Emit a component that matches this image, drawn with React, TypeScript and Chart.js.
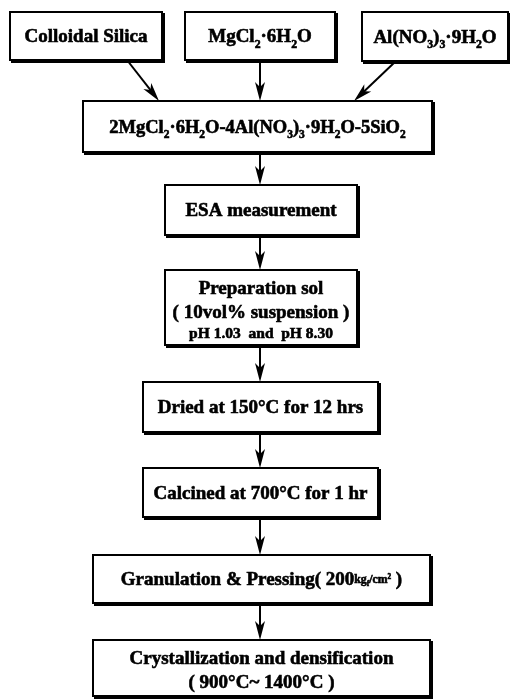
import React, { useEffect, useRef } from "react";
import { Chart, registerables } from "chart.js";

Chart.register(...registerables);

const W = 510;
const H = 699;

// Box labels: "_x" = subscript char, "^x" = superscript char, "{...}" = small group
const boxLabels: string[][] = [
  ["Colloidal Silica"],
  ["MgCl_2·6H_2O"],
  ["Al(NO_3)_3·9H_2O"],
  ["2MgCl_2·6H_2O-4Al(NO_3)_3·9H_2O-5SiO_2"],
  ["ESA measurement"],
  ["Preparation sol", "( 10vol% suspension )", "pH 1.03  and  pH 8.30"],
  ["Dried at 150°C for 12 hrs"],
  ["Calcined at 700°C for 1 hr"],
  ["Granulation & Pressing( 200{kg_f/cm^2} )"],
  ["Crystallization and densification", "( 900°C~ 1400°C )"],
];
const lineSizes: number[][] = [
  [19], [19], [19], [18.5], [19], [19, 19, 15.5], [19], [19], [19], [19, 19],
];
// Box extents in chart units
const boxLeft = [10, 185, 362, 83, 165, 165, 143, 143, 93, 93];
const boxRight = [162, 335, 508, 432, 357, 357, 378, 378, 430, 430];
const boxTop = [12, 12, 12, 101, 185, 270, 382, 468, 555, 640];
const boxBottom = [60, 60, 61, 152, 235, 345, 432, 517, 603, 696];

// Arrows: from box (bottom edge) to box (top edge)
const arrowFrom = [0, 1, 2, 3, 4, 5, 6, 7, 8];
const arrowTo = [3, 3, 3, 4, 5, 6, 7, 8, 9];
const arrowFromX = [127, 260, 396, 260, 260, 260, 260, 260, 260];
const arrowToX = [159, 260, 354, 260, 260, 260, 260, 260, 260];

type Seg = { t: string; mode: "n" | "sub" | "sup"; small: boolean };

function parse(s: string): Seg[] {
  const segs: Seg[] = [];
  let small = false;
  for (let i = 0; i < s.length; i++) {
    const c = s[i];
    if (c === "{") { small = true; continue; }
    if (c === "}") { small = false; continue; }
    if ((c === "_" || c === "^") && i + 1 < s.length) {
      segs.push({ t: s[i + 1], mode: c === "_" ? "sub" : "sup", small });
      i++;
      continue;
    }
    const last = segs[segs.length - 1];
    if (last && last.mode === "n" && last.small === small) last.t += c;
    else segs.push({ t: c, mode: "n", small });
  }
  return segs;
}

const FONT = '"Liberation Serif", "Times New Roman", serif';

function segSize(seg: Seg, size: number) {
  let s = seg.small ? size * 0.62 : size;
  if (seg.mode !== "n") s *= 0.62;
  return s;
}
function segOffset(seg: Seg, size: number) {
  let o = seg.small ? -size * 0.12 : 0;
  if (seg.mode === "sub") o += size * (seg.small ? 0.18 : 0.28);
  if (seg.mode === "sup") o -= size * (seg.small ? 0.22 : 0.38);
  return o;
}

function drawRich(ctx: CanvasRenderingContext2D, text: string, cx: number, cy: number, size: number) {
  const segs = parse(text);
  let total = 0;
  const widths: number[] = [];
  for (const seg of segs) {
    ctx.font = `bold ${segSize(seg, size)}px ${FONT}`;
    const w = ctx.measureText(seg.t).width;
    widths.push(w);
    total += w;
  }
  let x = cx - total / 2;
  const baseline = cy + size * 0.33;
  segs.forEach((seg, i) => {
    ctx.font = `bold ${segSize(seg, size)}px ${FONT}`;
    const yy = baseline + segOffset(seg, size);
    ctx.fillText(seg.t, x, yy);
    ctx.lineWidth = 0.6;
    ctx.strokeText(seg.t, x, yy);
    x += widths[i];
  });
}

const flowPlugin = {
  id: "flow",
  afterDatasetsDraw(chart: any) {
    const ctx: CanvasRenderingContext2D = chart.ctx;
    const xs = chart.scales.x;
    const ys = chart.scales.y;
    const px = (v: number) => xs.getPixelForValue(v);
    const py = (v: number) => ys.getPixelForValue(v);
    ctx.save();
    ctx.fillStyle = "#000";
    ctx.strokeStyle = "#000";

    // arrows
    arrowFrom.forEach((f, i) => {
      const t = arrowTo[i];
      const x1 = px(arrowFromX[i]);
      const y1 = py(boxBottom[f]);
      const x2 = px(arrowToX[i]);
      const y2 = py(boxTop[t]);
      const ang = Math.atan2(y2 - y1, x2 - x1);
      const len = 19;
      const hw = 5;
      const ux = Math.cos(ang), uy = Math.sin(ang);
      const nx = -uy, ny = ux;
      ctx.lineWidth = 2;
      ctx.beginPath();
      ctx.moveTo(x1, y1);
      ctx.lineTo(x2 - ux * 8, y2 - uy * 8);
      ctx.stroke();
      ctx.beginPath();
      ctx.moveTo(x2, y2);
      ctx.lineTo(x2 - ux * len + nx * hw, y2 - uy * len + ny * hw);
      ctx.lineTo(x2 - ux * (len - 5), y2 - uy * (len - 5));
      ctx.lineTo(x2 - ux * len - nx * hw, y2 - uy * len - ny * hw);
      ctx.closePath();
      ctx.fill();
    });

    // boxes
    boxLabels.forEach((lines, i) => {
      const l = px(boxLeft[i]);
      const r = px(boxRight[i]);
      const t = py(boxTop[i]);
      const b = py(boxBottom[i]);
      ctx.fillStyle = "#000";
      ctx.fillRect(l + 1, t + 1, r - l + 2, b - t + 2);
      ctx.fillStyle = "#fff";
      ctx.fillRect(l, t, r - l, b - t);
      ctx.lineWidth = 2;
      ctx.strokeStyle = "#000";
      ctx.strokeRect(l, t, r - l, b - t);

      ctx.fillStyle = "#000";
      const sizes = lineSizes[i];
      const heights = sizes.map((s) => s * 1.25);
      const totalH = heights.reduce((a, c) => a + c, 0);
      let y = (t + b) / 2 - totalH / 2 + (sizes.length > 1 ? 2 : 0);
      lines.forEach((line, j) => {
        drawRich(ctx, line, (l + r) / 2, y + heights[j] / 2, sizes[j]);
        y += heights[j];
      });
    });
    ctx.restore();
  },
};

export default function App() {
  const ref = useRef<HTMLCanvasElement | null>(null);
  useEffect(() => {
    const canvas = ref.current;
    if (!canvas) return;
    const chart = new Chart(canvas, {
      type: "scatter",
      data: {
        datasets: [
          {
            data: boxLabels.map((_, i) => ({
              x: (boxLeft[i] + boxRight[i]) / 2,
              y: (boxTop[i] + boxBottom[i]) / 2,
            })),
            pointRadius: 0,
          },
        ],
      },
      options: {
        animation: false,
        responsive: false,
        events: [],
        layout: { padding: 0 },
        plugins: { legend: { display: false }, tooltip: { enabled: false } },
        scales: {
          x: { type: "linear", min: 0, max: W, display: false },
          y: { type: "linear", min: 0, max: H, reverse: true, display: false },
        },
      },
      plugins: [flowPlugin],
    } as any);
    return () => chart.destroy();
  }, []);
  return (
    <div style={{ position: "fixed", left: 0, top: 0, width: W, height: H, background: "#fff" }}>
      <canvas ref={ref} width={W} height={H} style={{ display: "block", width: W, height: H }} />
    </div>
  );
}
